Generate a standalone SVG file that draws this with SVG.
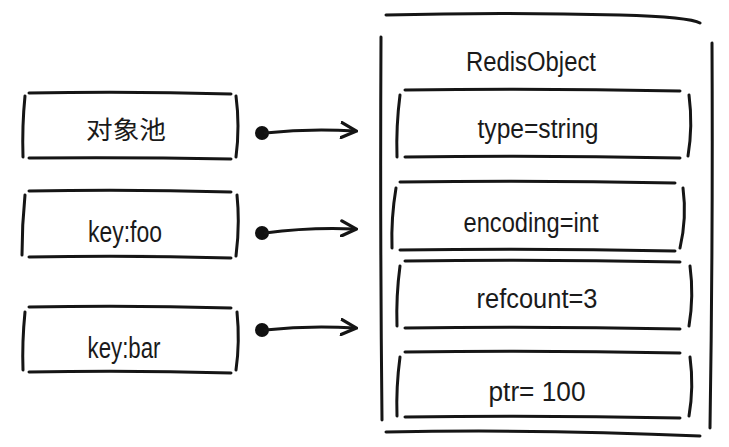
<svg xmlns="http://www.w3.org/2000/svg" width="729" height="447" viewBox="0 0 729 447">
<defs>
<style>
.s{fill:none;stroke:#151515;stroke-width:3;stroke-linecap:round;stroke-linejoin:round}
.t{font-family:"Liberation Sans","Noto Sans CJK SC",sans-serif;font-size:27px;fill:#1a1a1a;text-anchor:middle}
.k{font-size:30px}
.cj{font-family:"Noto Sans CJK SC",sans-serif;font-size:25px;fill:#1a1a1a;text-anchor:middle}
.c{fill:#111}
</style>
<marker id="ah" viewBox="0 0 12 12" refX="10" refY="6" markerWidth="6" markerHeight="6" orient="auto" markerUnits="strokeWidth">
<path d="M1,1 L11,6 L1,11" fill="none" stroke="#151515" stroke-width="2.2" stroke-linecap="round" stroke-linejoin="round"/>
</marker>
</defs>
<rect width="729" height="447" fill="#fff"/>

<g id="pool">
<path class="s" d="M29,93 Q130,91 231,94"/>
<path class="s" d="M29,158 Q130,157 231,159"/>
<path class="s" d="M25,96 Q22,126 23,157"/>
<path class="s" d="M236,96 Q240,126 236,157"/>
<text class="cj" x="126" y="139" textLength="80" lengthAdjust="spacingAndGlyphs">对象池</text>
</g>

<g id="keyfoo">
<path class="s" d="M29,191 Q130,189 231,192"/>
<path class="s" d="M29,257 Q130,255 231,258"/>
<path class="s" d="M25,195 Q22,225 22,255"/>
<path class="s" d="M237,195 Q240,225 236,256"/>
<text class="t k" x="125" y="242" textLength="74" lengthAdjust="spacingAndGlyphs">key:foo</text>
</g>

<g id="keybar">
<path class="s" d="M29,307 Q130,305 231,308"/>
<path class="s" d="M29,372 Q130,370 231,373"/>
<path class="s" d="M25,312 Q22,342 23,370"/>
<path class="s" d="M237,312 Q240,342 236,370"/>
<text class="t k" x="124" y="358" textLength="73" lengthAdjust="spacingAndGlyphs">key:bar</text>
</g>

<g id="redisobject">
<path class="s" d="M386,15 Q500,12 620,15 Q690,17 700,23"/>
<path class="s" d="M381,37 Q380,230 382,420"/>
<path class="s" d="M712,43 Q713,240 710,428"/>
<path class="s" d="M386,432 Q540,429 700,436"/>
<text class="t" x="531" y="71" textLength="130" lengthAdjust="spacingAndGlyphs">RedisObject</text>
</g>

<g id="type">
<path class="s" d="M405,90 Q540,88 680,91"/>
<path class="s" d="M405,157 Q540,155 680,158"/>
<path class="s" d="M400,95 Q396,126 397,157"/>
<path class="s" d="M689,95 Q693,126 688,156"/>
<text class="t" x="538" y="138" textLength="121" lengthAdjust="spacingAndGlyphs">type=string</text>
</g>

<g id="encoding">
<path class="s" d="M400,182 Q540,180 675,183"/>
<path class="s" d="M400,250 Q540,248 675,251"/>
<path class="s" d="M396,188 Q391,218 392,248"/>
<path class="s" d="M683,188 Q687,218 680,248"/>
<text class="t" x="531" y="232" textLength="135" lengthAdjust="spacingAndGlyphs">encoding=int</text>
</g>

<g id="refcount">
<path class="s" d="M405,261 Q540,259 680,262"/>
<path class="s" d="M405,328 Q540,326 680,329"/>
<path class="s" d="M400,266 Q396,296 397,326"/>
<path class="s" d="M690,266 Q694,296 689,326"/>
<text class="t" x="537" y="308" textLength="121" lengthAdjust="spacingAndGlyphs">refcount=3</text>
</g>

<g id="ptr">
<path class="s" d="M405,352 Q540,350 680,353"/>
<path class="s" d="M405,417 Q540,415 680,418"/>
<path class="s" d="M400,357 Q396,387 397,416"/>
<path class="s" d="M690,357 Q694,387 689,416"/>
<text class="t" x="537" y="401" textLength="97" lengthAdjust="spacingAndGlyphs">ptr= 100</text>
</g>

<g id="connectors">
<circle class="c" cx="262" cy="133" r="7"/>
<path class="s" d="M265,133 Q310,128 355,131" marker-end="url(#ah)"/>
<circle class="c" cx="262" cy="233" r="7"/>
<path class="s" d="M265,233 Q310,227 355,229" marker-end="url(#ah)"/>
<circle class="c" cx="262" cy="330" r="7"/>
<path class="s" d="M265,330 Q310,325 355,328" marker-end="url(#ah)"/>
</g>
</svg>
